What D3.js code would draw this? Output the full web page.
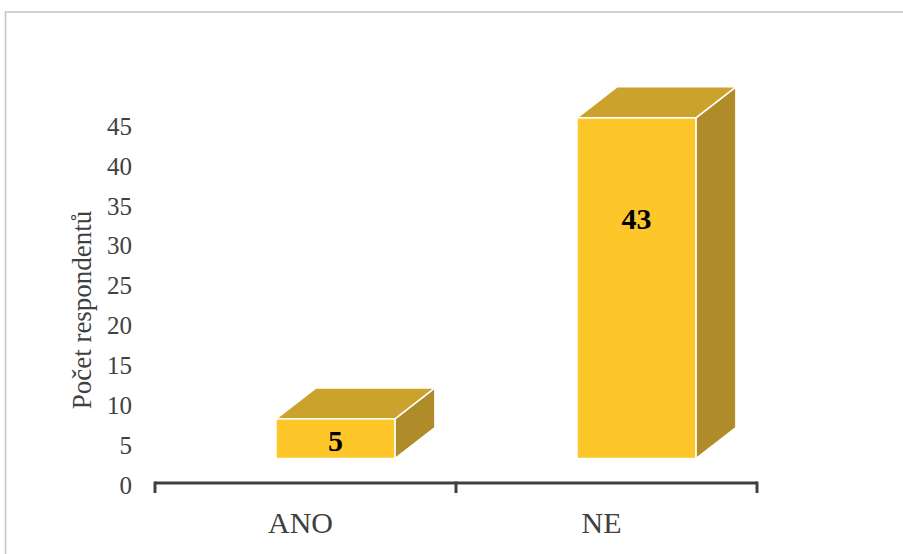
<!DOCTYPE html>
<html>
<head>
<meta charset="utf-8">
<script src="https://cdn.jsdelivr.net/npm/d3@7.9.0/dist/d3.min.js"></script>
<style>
  html, body { margin: 0; padding: 0; background: #fff; }
  svg { display: block; font-family: "Liberation Serif", "Times New Roman", serif; }
</style>
</head>
<body>
<div id="chart"></div>
<script>
// chart values
const categories = ['ANO', 'NE'];
const counts = [5, 43];
const yTicks = [0, 5, 10, 15, 20, 25, 30, 35, 40, 45];
const yTitle = 'Počet respondentů';

const width = 903;
const height = 554;

const svg = d3.select('#chart')
  .append('svg')
  .attr('width', width)
  .attr('height', height);

// chart area border (runs off the right and bottom edges)
svg.append('rect')
  .attr('x', 5.5).attr('y', 12)
  .attr('width', 1200).attr('height', 1200)
  .attr('fill', 'none')
  .attr('stroke', '#c6c6c6')
  .attr('stroke-width', 1.6);

const xScale = d3.scaleBand()
  .domain(categories)
  .range([155, 757])
  .paddingInner(0)
  .paddingOuter(0);

// tick label scale (back wall) and bar scale (front face)
const yScale = d3.scaleLinear().domain([0, 45]).range([485, 126]);
const yBar = d3.scaleLinear().domain([0, 45]).range([458.5, 102]);

const depthX = 40;
const depthY = -31;
const bw = xScale.bandwidth();

const data = categories.map((c, i) => ({ cat: c, value: counts[i] }));

// y tick labels
svg.append('g')
  .selectAll('text')
  .data(yTicks)
  .join('text')
  .attr('x', 132)
  .attr('y', d => yScale(d))
  .attr('dy', '0.35em')
  .attr('text-anchor', 'end')
  .attr('font-size', 25)
  .attr('fill', '#404040')
  .text(d => d);

// y title
svg.append('text')
  .attr('transform', `translate(91, 310) rotate(-90)`)
  .attr('text-anchor', 'middle')
  .attr('font-size', 27)
  .attr('fill', '#404040')
  .text(yTitle);

// x axis line + ticks
const axis = svg.append('g').attr('transform', 'translate(0, 483)');
axis.append('line')
  .attr('x1', 155).attr('x2', 757)
  .attr('stroke', '#404040').attr('stroke-width', 3);
const tickXs = categories.map(c => xScale(c)).concat([xScale.range()[1]]);
axis.selectAll('line.tick')
  .data(tickXs)
  .join('line')
  .attr('class', 'tick')
  .attr('x1', d => d).attr('x2', d => d)
  .attr('y1', -1.5).attr('y2', 10)
  .attr('stroke', '#404040').attr('stroke-width', 3);

// category labels
svg.append('g')
  .selectAll('text')
  .data(categories)
  .join('text')
  .attr('x', d => xScale(d) + bw / 2 - 5)
  .attr('y', 533)
  .attr('text-anchor', 'middle')
  .attr('font-size', 30)
  .attr('fill', '#404040')
  .text(d => d);

// 3D bars
const bars = svg.append('g').attr('class', 'bars');
const frontX = d => xScale(d.cat) + bw * 0.402;
const frontW = bw * 0.395;

bars.selectAll('g')
  .data(data)
  .join('g')
  .each(function (d) {
    const g = d3.select(this);
    const x0 = frontX(d);
    const x1 = x0 + frontW;
    const yT = yBar(d.value);
    const yB = yBar(0);
    const pts = arr => arr.map(p => p.join(',')).join(' ');
    // side face
    g.append('polygon')
      .attr('points', pts([[x1, yT], [x1 + depthX, yT + depthY], [x1 + depthX, yB + depthY], [x1, yB]]))
      .attr('fill', '#af8b2a')
      .attr('stroke', '#fff').attr('stroke-width', 1.5).attr('stroke-linejoin', 'round');
    // top face
    g.append('polygon')
      .attr('points', pts([[x0, yT], [x0 + depthX, yT + depthY], [x1 + depthX, yT + depthY], [x1, yT]]))
      .attr('fill', '#caa22c')
      .attr('stroke', '#fff').attr('stroke-width', 1.5).attr('stroke-linejoin', 'round');
    // front face
    g.append('rect')
      .attr('x', x0).attr('y', yT)
      .attr('width', frontW).attr('height', yB - yT)
      .attr('fill', '#fdc72a')
      .attr('stroke', '#fff').attr('stroke-width', 1.5);
    // data label
    const h = yB - yT;
    g.append('text')
      .attr('x', x0 + frontW / 2)
      .attr('y', yT + 11.7 + 0.26 * h)
      .attr('dy', '0.35em')
      .attr('text-anchor', 'middle')
      .attr('font-size', 30)
      .attr('font-weight', 'bold')
      .attr('fill', '#000')
      .text(d.value);
  });
</script>
</body>
</html>
